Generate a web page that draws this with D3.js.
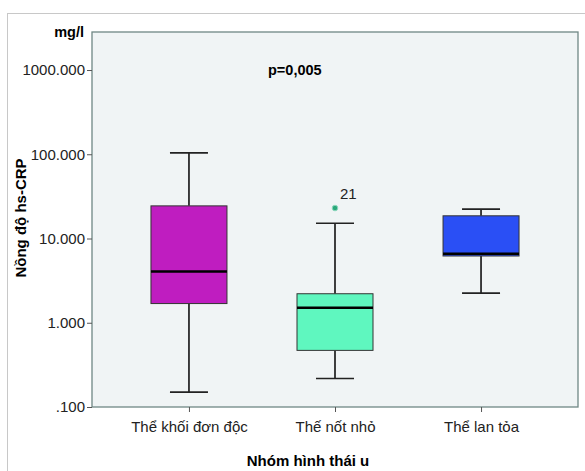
<!DOCTYPE html>
<html>
<head>
<meta charset="utf-8">
<script src="https://cdn.jsdelivr.net/npm/d3@7"></script>
<style>
  body { margin: 0; background: #fff; }
  text { font-family: "Liberation Sans", Arial, sans-serif; }
</style>
</head>
<body>
<svg id="chart" width="585" height="471"></svg>
<script>
// Group names (x axis)
const groups = ['Thể khối đơn độc', 'Thế nốt nhỏ', 'Thể lan tỏa'];
// Box statistics (mg/l)
const whiskerLow = [0.15, 0.218, 2.25];
const quartile1 = [1.69, 0.47, 6.2];
const medians = [4.06, 1.51, 6.6];
const quartile3 = [24.4, 2.21, 18.6];
const whiskerHigh = [104, 15.2, 22.3];
const boxColors = ['#bf1dc0', '#5ff7bf', '#2a4ff5'];
// Outliers: [group index, value, case label]
const outliers = [[1, 23, '21']];
// Axis ticks
const yTicks = [0.1, 1, 10, 100, 1000];
const yTickLabels = ['.100', '1.000', '10.000', '100.000', '1000.000'];

const svg = d3.select('#chart');
const plot = { left: 92, right: 578, top: 32, bottom: 407 };
const font = '"Liberation Sans", Arial, sans-serif';

// Outer frame
svg.append('rect')
    .attr('x', 7.5).attr('y', 13.5)
    .attr('width', 600).attr('height', 500)
    .attr('fill', 'none')
    .attr('stroke', '#c8c8c8')
    .attr('stroke-width', 1);

const y = d3.scaleLog()
    .domain([0.1, Math.pow(10, 3 + (70 - 32) / 84.2)])
    .range([plot.bottom, plot.top]);

const x = d3.scalePoint()
    .domain(groups)
    .range([plot.left, plot.right])
    .padding(0.664);

// Plot background
svg.append('rect')
    .attr('x', plot.left).attr('y', plot.top)
    .attr('width', plot.right - plot.left)
    .attr('height', plot.bottom - plot.top)
    .attr('fill', '#f0f4f5')
    .attr('stroke', '#6f8784')
    .attr('stroke-width', 1.3);

// Y axis
const yAxis = d3.axisLeft(y)
    .tickValues(yTicks)
    .tickFormat((d, i) => yTickLabels[i])
    .tickSize(5)
    .tickPadding(2);
const yg = svg.append('g')
    .attr('transform', `translate(${plot.left},0)`)
    .call(yAxis);
yg.select('.domain').remove();
yg.selectAll('line').attr('stroke', '#555');
yg.selectAll('text')
    .attr('font-size', 15)
    .attr('fill', '#222')
    .style('font-family', font);

// X axis
const xAxis = d3.axisBottom(x).tickSize(5).tickPadding(9);
const xg = svg.append('g')
    .attr('transform', `translate(0,${plot.bottom})`)
    .call(xAxis);
xg.select('.domain').remove();
xg.selectAll('line').attr('stroke', '#555');
xg.selectAll('text')
    .attr('font-size', 15)
    .attr('fill', '#222')
    .style('font-family', font);

// Boxes
const boxW = 76, capW = 38;
const data = groups.map((g, i) => ({
    g, lo: whiskerLow[i], q1: quartile1[i], med: medians[i],
    q3: quartile3[i], hi: whiskerHigh[i], color: boxColors[i]
}));

const boxes = svg.append('g').selectAll('g')
    .data(data)
    .join('g')
    .attr('transform', d => `translate(${x(d.g)},0)`);

boxes.append('line')
    .attr('x1', 0).attr('x2', 0)
    .attr('y1', d => y(d.hi)).attr('y2', d => y(d.q3))
    .attr('stroke', '#111').attr('stroke-width', 1.6);
boxes.append('line')
    .attr('x1', 0).attr('x2', 0)
    .attr('y1', d => y(d.q1)).attr('y2', d => y(d.lo))
    .attr('stroke', '#111').attr('stroke-width', 1.6);
boxes.append('line')
    .attr('x1', -capW / 2).attr('x2', capW / 2)
    .attr('y1', d => y(d.hi)).attr('y2', d => y(d.hi))
    .attr('stroke', '#222').attr('stroke-width', 1.6);
boxes.append('line')
    .attr('x1', -capW / 2).attr('x2', capW / 2)
    .attr('y1', d => y(d.lo)).attr('y2', d => y(d.lo))
    .attr('stroke', '#222').attr('stroke-width', 1.6);
boxes.append('rect')
    .attr('x', -boxW / 2).attr('width', boxW)
    .attr('y', d => y(d.q3))
    .attr('height', d => y(d.q1) - y(d.q3))
    .attr('fill', d => d.color)
    .attr('stroke', '#333').attr('stroke-width', 1);
boxes.append('line')
    .attr('x1', -boxW / 2).attr('x2', boxW / 2)
    .attr('y1', d => y(d.med)).attr('y2', d => y(d.med))
    .attr('stroke', '#000').attr('stroke-width', 2.6);

// Outliers
outliers.forEach(([gi, v, label]) => {
    svg.append('circle')
        .attr('cx', x(groups[gi])).attr('cy', y(v))
        .attr('r', 2.8)
        .attr('fill', '#2aa87a')
        .attr('stroke', '#8fd8bf').attr('stroke-width', 1);
    svg.append('text')
        .attr('x', x(groups[gi]) + 5).attr('y', y(v) - 9)
        .attr('font-size', 15).attr('fill', '#222')
        .text(label);
});

// Labels
svg.append('text')
    .attr('x', 84).attr('y', 37)
    .attr('text-anchor', 'end')
    .attr('font-size', 14.5).attr('font-weight', 'bold')
    .text('mg/l');
svg.append('text')
    .attr('x', 268).attr('y', 75)
    .attr('font-size', 14.5).attr('font-weight', 'bold')
    .text('p=0,005');
svg.append('text')
    .attr('transform', 'translate(26,218) rotate(-90)')
    .attr('text-anchor', 'middle')
    .attr('font-size', 15).attr('font-weight', 'bold')
    .text('Nồng độ hs-CRP');
svg.append('text')
    .attr('x', 308).attr('y', 466)
    .attr('text-anchor', 'middle')
    .attr('font-size', 15).attr('font-weight', 'bold')
    .text('Nhóm hình thái u');
</script>
</body>
</html>
